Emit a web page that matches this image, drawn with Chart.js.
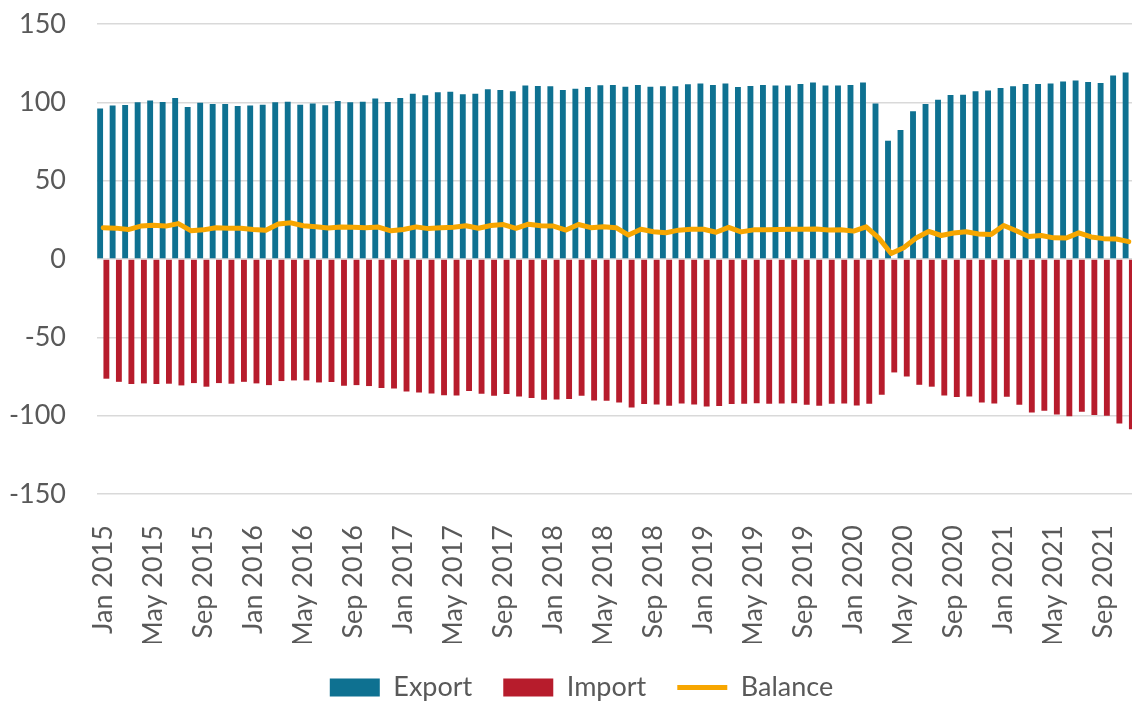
<!DOCTYPE html>
<html>
<head>
<meta charset="utf-8">
<title>Export / Import / Balance</title>
<script src="https://cdn.jsdelivr.net/npm/chart.js@4.4.1/dist/chart.umd.min.js"></script>
<style>
  html, body { margin: 0; padding: 0; background: #fff; overflow: hidden; }
</style>
</head>
<body>
<canvas id="tradeChart" width="1163" height="711"></canvas>
<script>
const monthNames = ['Jan','Feb','Mar','Apr','May','Jun','Jul','Aug','Sep','Oct','Nov','Dec'];
const years = [2015, 2016, 2017, 2018, 2019, 2020, 2021];
const monthCount = 83; // Jan 2015 .. Nov 2021

const months = [];
for (let i = 0; i < monthCount; i++) {
  months.push(monthNames[i % 12] + ' ' + years[Math.floor(i / 12)]);
}

const exportValues = [
  96.0, 97.9, 98.3, 100.0, 101.1, 100.2, 102.8, 97.0, 99.8, 99.0, 99.0, 97.7,
  97.9, 98.5, 100.0, 100.4, 98.5, 99.2, 98.1, 100.9, 100.0, 100.4, 102.4, 100.2,
  102.8, 105.4, 104.5, 106.4, 106.8, 105.1, 105.4, 108.3, 107.9, 107.0, 110.7, 110.5,
  110.2, 107.9, 108.7, 109.8, 110.9, 111.1, 110.0, 111.1, 110.0, 110.2, 110.2, 111.5,
  112.1, 111.1, 112.1, 109.8, 110.5, 111.1, 110.7, 110.7, 111.7, 112.6, 110.7, 110.7,
  111.1, 112.6, 99.2, 75.5, 82.4, 94.3, 99.0, 101.7, 104.7, 104.9, 107.0, 107.5,
  109.2, 110.2, 111.7, 111.7, 112.1, 113.3, 114.0, 113.0, 112.4, 117.2, 119.0
];

const importValues = [
  -76.4, -78.4, -79.8, -79.4, -79.8, -79.6, -80.7, -79.2, -81.5, -79.2, -79.6, -78.4,
  -79.4, -80.5, -77.9, -77.5, -77.5, -78.8, -78.5, -80.9, -80.5, -81.1, -82.4, -82.6,
  -84.5, -85.2, -85.8, -86.9, -87.1, -84.3, -86.0, -87.3, -86.2, -87.7, -88.8, -89.8,
  -89.7, -89.4, -87.3, -90.3, -90.5, -91.6, -94.8, -92.6, -92.8, -93.7, -92.2, -92.8,
  -94.1, -93.9, -92.6, -92.4, -92.0, -92.4, -92.2, -92.0, -93.0, -93.7, -92.4, -92.2,
  -93.5, -92.4, -86.7, -72.4, -75.0, -80.3, -81.5, -87.1, -88.1, -87.7, -91.6, -92.2,
  -87.9, -93.0, -98.0, -96.9, -99.2, -100.3, -97.5, -99.6, -100.1, -105.0, -108.6
];

const balanceValues = [
  20.0, 19.7, 18.8, 21.0, 21.6, 21.0, 22.6, 18.1, 18.6, 20.0, 19.6, 19.6,
  18.9, 18.4, 22.3, 23.1, 21.2, 20.6, 19.8, 20.4, 20.2, 19.9, 20.4, 18.0,
  18.8, 20.5, 19.4, 20.0, 20.3, 21.2, 19.6, 21.4, 22.0, 19.6, 22.2, 21.2,
  21.0, 18.5, 22.0, 20.0, 20.6, 20.0, 15.3, 19.0, 17.4, 16.8, 18.4, 19.0,
  19.0, 17.1, 20.2, 17.3, 18.6, 18.7, 18.8, 19.0, 19.0, 19.1, 18.5, 18.6,
  17.8, 20.5, 13.5, 3.5, 7.2, 13.4, 17.6, 15.0, 16.6, 17.4, 16.0, 15.7,
  21.4, 18.0, 14.3, 15.0, 13.5, 13.4, 16.7, 14.1, 13.0, 12.8, 11.1
];

const yTicks = [-150, -100, -50, 0, 50, 100, 150];

const textColor = '#595959';
Chart.defaults.font.family = 'Lato, "Open Sans", sans-serif';
Chart.defaults.font.size = 27;
Chart.defaults.color = textColor;

const ctx = document.getElementById('tradeChart').getContext('2d');

new Chart(ctx, {
  type: 'bar',
  data: {
    labels: months,
    datasets: [
      {
        label: 'Export',
        data: exportValues,
        backgroundColor: '#0E7191',
        borderWidth: 0,
        categoryPercentage: 1,
        barPercentage: 0.94,
        order: 1
      },
      {
        label: 'Import',
        data: importValues,
        backgroundColor: '#B71C2C',
        borderWidth: 0,
        categoryPercentage: 1,
        barPercentage: 0.94,
        order: 1
      },
      {
        type: 'line',
        label: 'Balance',
        data: balanceValues,
        borderColor: '#F7A600',
        backgroundColor: '#F7A600',
        borderWidth: 5,
        borderCapStyle: 'round',
        borderJoinStyle: 'round',
        pointRadius: 0,
        tension: 0,
        order: 0
      }
    ]
  },
  options: {
    responsive: false,
    animation: false,
    layout: { padding: { top: 24, left: 0, right: 0, bottom: 0 } },
    plugins: {
      tooltip: { enabled: false },
      legend: {
        position: 'bottom',
        labels: {
          usePointStyle: true,
          pointStyleWidth: 50,
          boxHeight: 18,
          padding: 31,
          color: textColor,
          font: { size: 27 },
          sort: (a, b) => a.datasetIndex - b.datasetIndex,
          generateLabels: (chart) => {
            const items = Chart.defaults.plugins.legend.labels.generateLabels(chart);
            items.forEach(item => {
              item.pointStyle = item.datasetIndex === 2 ? 'line' : 'rect';
            });
            return items;
          }
        }
      }
    },
    scales: {
      x: {
        grid: { display: false },
        border: { display: false },
        ticks: {
          autoSkip: false,
          minRotation: 90,
          maxRotation: 90,
          padding: 23,
          callback: function (value, index) {
            return index % 4 === 0 ? months[index] : '';
          }
        },
        afterFit: (scale) => {
          scale.paddingLeft = 0;
          scale.paddingRight = 28;
          scale.height = 149;
        }
      },
      y: {
        min: -150,
        max: 150,
        afterBuildTicks: (scale) => {
          scale.ticks = yTicks.map(v => ({ value: v }));
        },
        grid: { color: '#D9D9D9', lineWidth: 1.5, drawTicks: false },
        border: { display: false },
        ticks: { padding: 31 },
        afterFit: (scale) => {
          scale.width = 97;
          scale.paddingTop = 0;
          scale.paddingBottom = 0;
        }
      }
    }
  }
});
</script>
</body>
</html>
